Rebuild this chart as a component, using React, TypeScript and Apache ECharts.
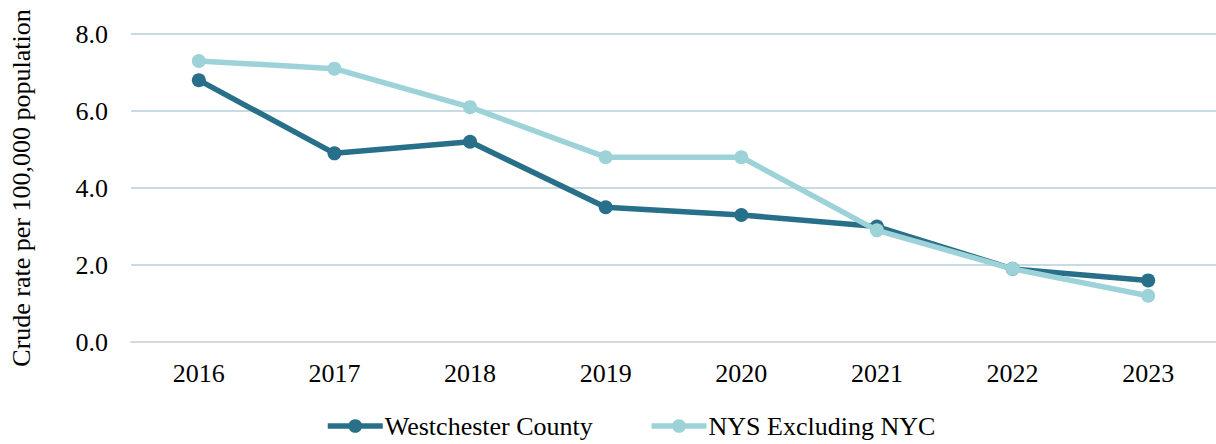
import React, { useEffect, useRef } from "react";
import * as echarts from "echarts";

const categories = ["2016", "2017", "2018", "2019", "2020", "2021", "2022", "2023"];
const westchester = [6.8, 4.9, 5.2, 3.5, 3.3, 3.0, 1.9, 1.6];
const nysExclNyc = [7.3, 7.1, 6.1, 4.8, 4.8, 2.9, 1.9, 1.2];
const seriesNames = ["Westchester County", "NYS Excluding NYC"];
const yAxisTitle = "Crude rate per 100,000 population";

const FONT = "'Liberation Serif', 'Times New Roman', serif";
const DARK = "#286f8a";
const LIGHT = "#9dd3d8";

export default function App() {
  const ref = useRef<HTMLDivElement>(null);
  useEffect(() => {
    if (!ref.current) return;
    const chart = echarts.init(ref.current, undefined, { renderer: "svg" });
    chart.setOption({
      animation: false,
      grid: { left: 130, right: -3, top: 34, bottom: 102, containLabel: false },
      legend: {
        left: 320,
        bottom: 0,
        itemWidth: 55,
        itemHeight: 17,
        itemGap: 56,
        lineStyle: { width: 5.5 },
        textStyle: { fontFamily: FONT, fontSize: 26, color: "#000", padding: [0, 0, 0, -3] },
        data: seriesNames,
      },
      xAxis: {
        type: "category",
        data: categories,
        boundaryGap: true,
        axisLine: { show: true, lineStyle: { color: "#d9d9d9", width: 2 } },
        axisTick: { show: false },
        axisLabel: { fontFamily: FONT, fontSize: 26, color: "#000", margin: 18 },
        splitLine: { show: false },
      },
      yAxis: {
        type: "value",
        min: 0,
        max: 8,
        interval: 2,
        name: yAxisTitle,
        nameLocation: "middle",
        nameGap: 97,
        nameRotate: 90,
        nameTextStyle: { fontFamily: FONT, fontSize: 26, color: "#000" },
        axisLine: { show: false },
        axisTick: { show: false },
        axisLabel: {
          fontFamily: FONT,
          fontSize: 26,
          color: "#000",
          margin: 23,
          formatter: (v: number) => v.toFixed(1),
        },
        splitLine: { lineStyle: { color: "#c6dbe4", width: 2 } },
      },
      series: [
        {
          name: seriesNames[0],
          type: "line",
          data: westchester,
          color: DARK,
          lineStyle: { width: 5.5, color: DARK },
          itemStyle: { color: DARK },
          symbol: "circle",
          symbolSize: 14,
          z: 3,
        },
        {
          name: seriesNames[1],
          type: "line",
          data: nysExclNyc,
          color: LIGHT,
          lineStyle: { width: 5.5, color: LIGHT },
          itemStyle: { color: LIGHT },
          symbol: "circle",
          symbolSize: 14,
          z: 4,
        },
      ],
    });
    return () => chart.dispose();
  }, []);
  return (
    <div
      ref={ref}
      style={{ position: "fixed", left: 0, top: 0, width: 1216, height: 444, background: "#fff" }}
    />
  );
}
